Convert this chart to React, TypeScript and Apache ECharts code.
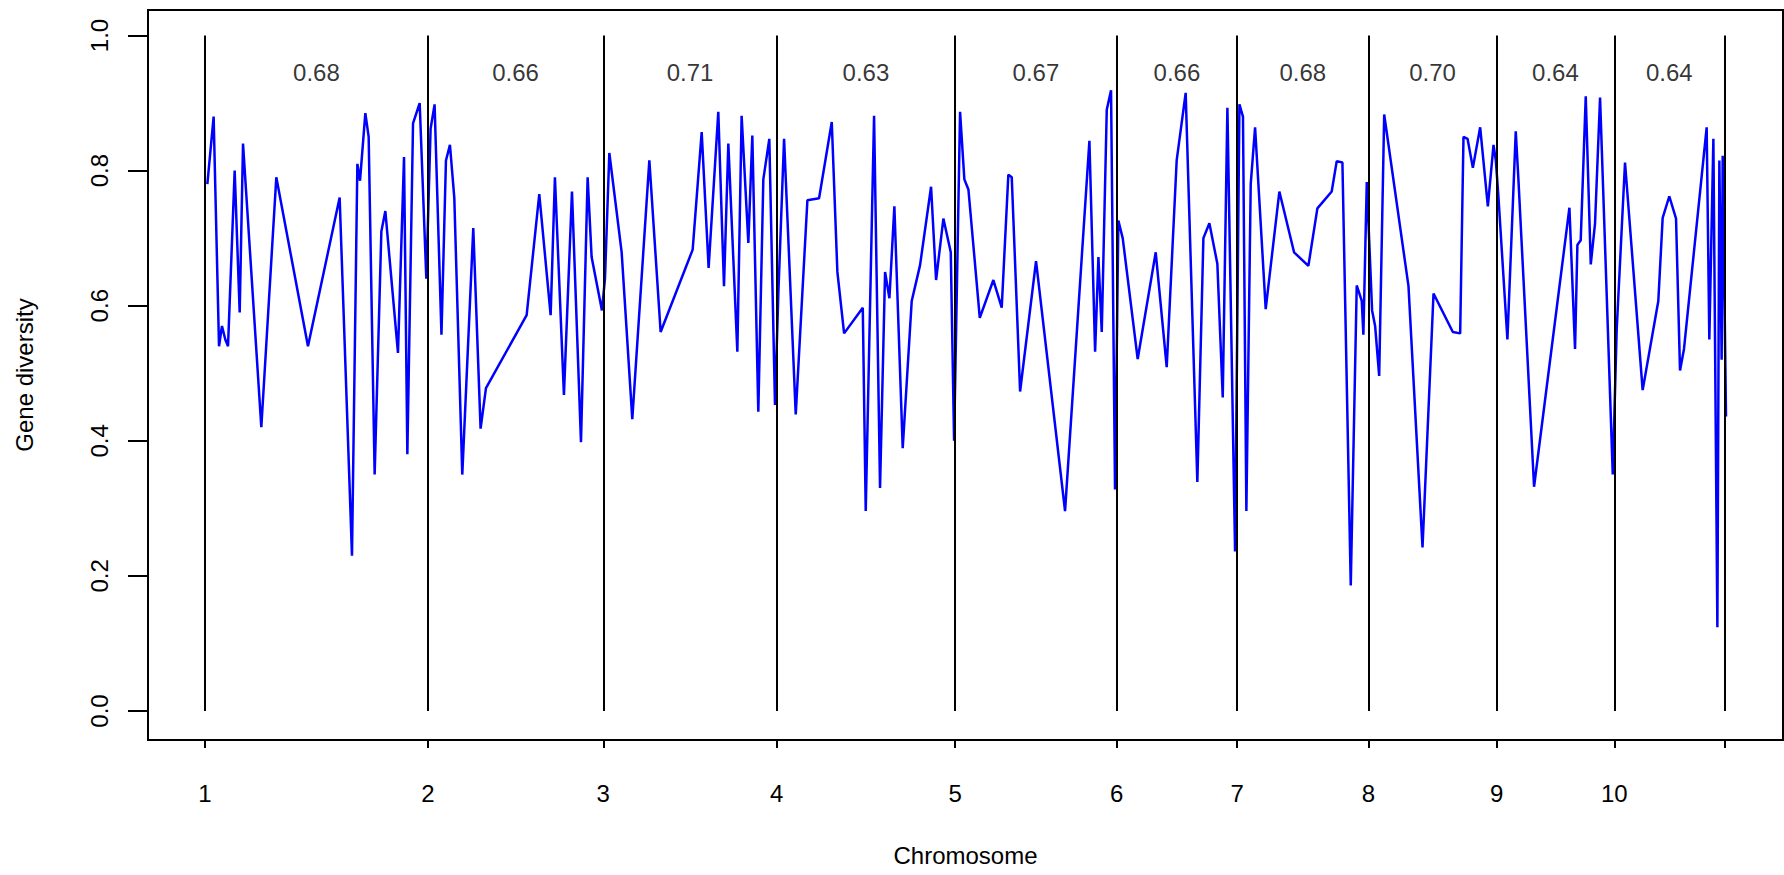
import React, { useEffect, useRef } from "react";
import * as echarts from "echarts";

// ---- data ----
const chromosomeNames = ["1", "2", "3", "4", "5", "6", "7", "8", "9", "10"];
// chromosome lengths (Mb)
const chromosomeLengths = [302, 237.5, 235, 241.5, 219, 163, 178, 173.5, 159.5, 149];
// mean gene diversity per chromosome
const meanDiversity = ["0.68", "0.66", "0.71", "0.63", "0.67", "0.66", "0.68", "0.70", "0.64", "0.64"];
const yTickValues = [0, 0.2, 0.4, 0.6, 0.8, 1.0];

// [position within chromosome (Mb), gene diversity]
const chr1 = [
  [3.2, 0.78], [11.7, 0.88], [19.0, 0.54], [23.0, 0.57], [27.5, 0.55], [31.2, 0.54], [40.2, 0.8],
  [47.0, 0.59], [51.5, 0.84], [76.3, 0.42], [96.6, 0.79], [139.5, 0.54], [182.4, 0.76], [199.1, 0.23],
  [206.4, 0.81], [210.0, 0.785], [217.2, 0.885], [221.7, 0.85], [229.8, 0.35], [238.9, 0.71],
  [244.3, 0.74], [261.4, 0.53], [269.6, 0.82], [274.1, 0.38], [281.8, 0.87], [290.8, 0.9], [299.8, 0.64],
];
const chr2 = [
  [3.6, 0.862], [9.0, 0.898], [18.3, 0.557], [24.4, 0.815], [29.8, 0.838], [35.7, 0.76], [46.5, 0.35],
  [61.4, 0.715], [71.3, 0.418], [78.6, 0.478], [133.7, 0.586], [150.8, 0.765], [166.2, 0.586],
  [172.0, 0.79], [184.2, 0.468], [195.1, 0.769], [207.3, 0.398], [216.3, 0.79], [221.7, 0.672], [235.7, 0.593],
];
const chr3 = [
  [2.3, 0.64], [8.2, 0.826], [24.9, 0.679], [39.3, 0.432], [62.4, 0.815], [77.7, 0.561], [121.1, 0.683],
  [133.3, 0.857], [142.7, 0.656], [155.8, 0.887], [163.5, 0.629], [169.4, 0.84], [181.6, 0.532],
  [187.4, 0.881], [196.5, 0.693], [201.9, 0.852], [210.0, 0.443], [216.8, 0.787], [224.9, 0.847], [232.6, 0.453],
];
const chr4 = [
  [2.2, 0.62], [9.9, 0.847], [25.7, 0.439], [41.5, 0.756], [57.3, 0.759], [74.5, 0.872], [82.1, 0.65],
  [91.2, 0.559], [116.5, 0.597], [120.5, 0.296], [131.8, 0.881], [139.9, 0.33], [146.7, 0.65],
  [152.6, 0.611], [159.3, 0.747], [170.6, 0.389], [182.8, 0.607], [194.1, 0.66], [209.0, 0.776],
  [215.8, 0.638], [225.7, 0.729], [235.7, 0.679], [240.2, 0.4],
];
const chr5 = [
  [6.8, 0.887], [12.6, 0.787], [18.1, 0.772], [33.5, 0.582], [51.9, 0.638], [63.2, 0.597], [72.2, 0.794],
  [76.8, 0.79], [88.1, 0.473], [109.7, 0.666], [149.0, 0.296], [182.0, 0.844], [189.7, 0.532],
  [194.2, 0.672], [198.7, 0.561], [205.5, 0.89], [211.3, 0.919], [216.7, 0.328],
];
const chr6 = [
  [2.2, 0.726], [8.1, 0.7], [28.4, 0.521], [52.8, 0.679], [67.7, 0.509], [81.2, 0.815], [93.4, 0.915],
  [109.2, 0.339], [117.4, 0.7], [125.5, 0.722], [136.3, 0.662], [143.6, 0.464], [149.9, 0.893], [160.3, 0.236],
];
const chr7 = [
  [3.2, 0.898], [8.0, 0.88], [12.6, 0.296], [18.5, 0.78], [24.4, 0.864], [38.8, 0.595], [57.3, 0.769],
  [77.2, 0.679], [96.6, 0.659], [108.8, 0.744], [128.2, 0.769], [135.0, 0.814], [142.7, 0.812],
  [154.0, 0.186], [162.1, 0.63], [168.9, 0.607], [171.1, 0.557], [175.7, 0.783],
];
const chr8 = [
  [4.9, 0.593], [9.0, 0.57], [14.5, 0.496], [21.3, 0.883], [54.2, 0.629], [73.2, 0.242], [88.1, 0.618],
  [114.3, 0.561], [124.2, 0.559], [128.7, 0.85], [134.2, 0.847], [141.4, 0.804], [151.3, 0.864],
  [161.7, 0.747], [169.4, 0.838], [172.5, 0.815],
];
const chr9 = [
  [2.5, 0.762], [14.7, 0.55], [26.0, 0.858], [29.6, 0.787], [50.8, 0.332], [98.7, 0.745], [106.3, 0.536],
  [109.5, 0.69], [114.0, 0.697], [120.8, 0.91], [127.6, 0.661], [133.4, 0.722], [140.2, 0.908], [157.4, 0.35],
];
const chr10 = [
  [3.2, 0.564], [14.5, 0.812], [38.4, 0.475], [59.6, 0.607], [65.5, 0.73], [74.5, 0.762], [83.6, 0.729],
  [89.0, 0.504], [94.4, 0.536], [125.1, 0.864], [128.7, 0.55], [134.2, 0.847], [139.6, 0.124],
  [142.3, 0.815], [145.4, 0.52], [146.8, 0.822], [151.3, 0.436],
];
const chromosomes = [chr1, chr2, chr3, chr4, chr5, chr6, chr7, chr8, chr9, chr10];

const FONT = "'Liberation Sans', Arial, Helvetica, sans-serif";
const FS = 24;

export default function App() {
  const ref = useRef<HTMLDivElement>(null);

  useEffect(() => {
    if (!ref.current) return;
    const chart = echarts.init(ref.current, null, { renderer: "svg" });

    const starts: number[] = [];
    let acc = 0;
    for (const len of chromosomeLengths) {
      starts.push(acc);
      acc += len;
    }
    const total = acc;
    const boundaries = [...starts, total];
    const lineData = chromosomes.flatMap((c, i) => c.map(([p, v]) => [starts[i] + p, v]));
    const mids = starts.map((s, i) => s + chromosomeLengths[i] / 2);

    const textStyle = { color: "#000", fontSize: FS, fontFamily: FONT };

    chart.setOption({
      animation: false,
      backgroundColor: "#fff",
      grid: {
        left: 148,
        top: 10,
        width: 1635,
        height: 730,
        show: true,
        borderColor: "#000",
        borderWidth: 2,
        backgroundColor: "transparent",
      },
      xAxis: {
        type: "value",
        min: -77.2,
        max: 2137.5,
        axisLine: { show: false, onZero: false },
        splitLine: { show: false },
        axisTick: {
          show: true,
          customValues: boundaries,
          length: 8,
          lineStyle: { color: "#000", width: 2 },
        },
        axisLabel: {
          customValues: starts,
          margin: 41,
          ...textStyle,
          formatter: (v: number) => {
            let best = 0;
            starts.forEach((s, i) => {
              if (Math.abs(s - v) < Math.abs(starts[best] - v)) best = i;
            });
            return chromosomeNames[best];
          },
        },
        name: "Chromosome",
        nameLocation: "middle",
        nameGap: 103,
        nameTextStyle: textStyle,
      },
      yAxis: {
        type: "value",
        min: -0.0429,
        max: 1.0377,
        axisLine: { show: false, onZero: false },
        splitLine: { show: false },
        axisTick: {
          show: true,
          customValues: yTickValues,
          length: 20,
          lineStyle: { color: "#000", width: 2 },
        },
        axisLabel: {
          customValues: yTickValues,
          rotate: 90,
          margin: 37,
          ...textStyle,
          formatter: (v: number) => v.toFixed(1),
        },
        name: "Gene diversity",
        nameLocation: "middle",
        nameRotate: 90,
        nameGap: 112,
        nameTextStyle: textStyle,
      },
      series: [
        {
          type: "line",
          data: lineData,
          showSymbol: false,
          symbol: "none",
          silent: true,
          z: 2,
          lineStyle: { color: "#0000ff", width: 2.5 },
        },
        {
          type: "scatter",
          data: mids.map((m) => [m, 0.945]),
          symbolSize: 1,
          silent: true,
          z: 3,
          itemStyle: { color: "transparent" },
          label: {
            show: true,
            position: "inside",
            ...textStyle,
            formatter: (p: any) => meanDiversity[p.dataIndex],
          },
          markLine: {
            silent: true,
            symbol: ["none", "none"],
            label: { show: false },
            lineStyle: { color: "#000", width: 2, type: "solid" },
            data: boundaries.map((b) => [{ coord: [b, 0] }, { coord: [b, 1] }]),
          },
        },
      ],
    });

    return () => chart.dispose();
  }, []);

  return (
    <div
      ref={ref}
      style={{ position: "absolute", left: 0, top: 0, width: 1784, height: 875 }}
    />
  );
}
